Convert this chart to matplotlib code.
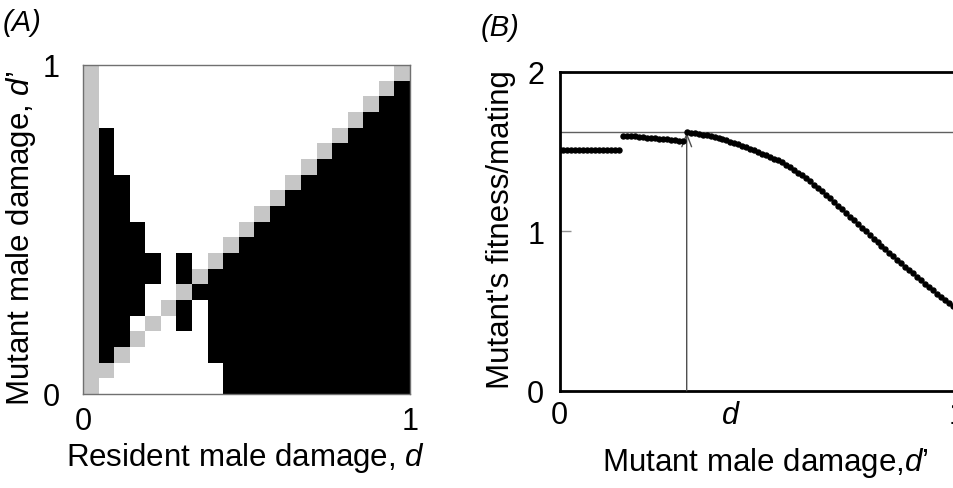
import numpy as np
import matplotlib
matplotlib.use("Agg")
import matplotlib.pyplot as plt
from matplotlib.colors import ListedColormap

plt.rcParams['font.family'] = ['Liberation Sans', 'DejaVu Sans']
plt.rcParams['mathtext.fontset'] = 'custom'
plt.rcParams['mathtext.rm'] = 'Liberation Sans'
plt.rcParams['mathtext.it'] = 'Liberation Sans:italic'

# ---------------- Panel A data: pairwise invasibility grid ----------------
# rows from top (d' = 1) to bottom (d' = 0); columns d = 0 .. 1 in steps of 0.05
# '.' = mutant cannot invade (white), '#' = mutant invades (black), 'g' = neutral (grey)
pip_rows = [
    "g...................g",
    "g..................g#",
    "g.................g##",
    "g................g###",
    "g#..............g####",
    "g#.............g#####",
    "g#............g######",
    "g##..........g#######",
    "g##.........g########",
    "g##........g#########",
    "g###......g##########",
    "g###.....g###########",
    "g####.#.g############",
    "g####.#g#############",
    "g###..g##############",
    "g###.g#.#############",
    "g##.g.#.#############",
    "g##g....#############",
    "g#g.....#############",
    "gg.......############",
    "g........############",
]
pip_codes = {'.': 0, '#': 1, 'g': 2}

# ---------------- Panel B data: mutant fitness vs mutant damage ----------------
seg1_x = [0.00, 0.01, 0.02, 0.03, 0.04, 0.05, 0.06, 0.07, 0.08, 0.09, 0.10,
          0.11, 0.12, 0.13, 0.14, 0.15]
seg1_y = [1.512, 1.512, 1.512, 1.512, 1.512, 1.512, 1.512, 1.512, 1.512, 1.512,
          1.512, 1.511, 1.511, 1.511, 1.511, 1.511]
seg2_x = [0.16, 0.17, 0.18, 0.19, 0.20, 0.21, 0.22, 0.23, 0.24, 0.25, 0.26,
          0.27, 0.28, 0.29, 0.30, 0.31]
seg2_y = [1.600, 1.598, 1.596, 1.594, 1.592, 1.589, 1.587, 1.585, 1.582, 1.580,
          1.577, 1.575, 1.572, 1.569, 1.566, 1.563]
seg3_x = [0.32, 0.33, 0.34, 0.35, 0.36, 0.37, 0.38, 0.39, 0.40, 0.41, 0.42,
          0.43, 0.44, 0.45, 0.46, 0.47, 0.48, 0.49, 0.50, 0.51, 0.52, 0.53,
          0.54, 0.55, 0.56, 0.57, 0.58, 0.59, 0.60, 0.61, 0.62, 0.63, 0.64,
          0.65, 0.66, 0.67, 0.68, 0.69, 0.70, 0.71, 0.72, 0.73, 0.74, 0.75,
          0.76, 0.77, 0.78, 0.79, 0.80, 0.81, 0.82, 0.83, 0.84, 0.85, 0.86,
          0.87, 0.88, 0.89, 0.90, 0.91, 0.92, 0.93, 0.94, 0.95, 0.96, 0.97,
          0.98, 0.99, 1.00]
seg3_y = [1.620, 1.617, 1.614, 1.610, 1.606, 1.601, 1.596, 1.590, 1.584, 1.577,
          1.570, 1.562, 1.554, 1.546, 1.537, 1.528, 1.518, 1.508, 1.497, 1.486,
          1.475, 1.463, 1.451, 1.446, 1.432, 1.417, 1.401, 1.385, 1.368, 1.350,
          1.331, 1.312, 1.292, 1.271, 1.250, 1.228, 1.206, 1.184, 1.161, 1.138,
          1.115, 1.092, 1.069, 1.046, 1.023, 1.000, 0.977, 0.954, 0.931, 0.909,
          0.887, 0.865, 0.843, 0.821, 0.799, 0.777, 0.756, 0.735, 0.714, 0.693,
          0.672, 0.651, 0.630, 0.609, 0.589, 0.569, 0.549, 0.529, 0.509]
d_star = 0.32
w_star = 1.62
d_label_x = 0.43

W, H = 954, 489
fig = plt.figure(figsize=(W / 100, H / 100), dpi=100)

def fx(px):
    return px / W

def fy(py):
    return 1 - py / H

FS = 22.5   # axis labels
TS = 22     # tick labels

# ---------------- Panel A ----------------
axA = fig.add_axes([fx(83), fy(395), fx(410) - fx(83), fy(66) - fy(395)])
grid = np.array([[pip_codes[c] for c in row] for row in pip_rows])
cmap = ListedColormap(['white', 'black', '#c6c6c6'])
axA.imshow(grid, cmap=cmap, vmin=0, vmax=2, extent=[0, 1, 0, 1],
           origin='upper', interpolation='nearest', aspect='auto')
axA.set_xlim(0, 1)
axA.set_ylim(0, 1)
for s in axA.spines.values():
    s.set_color('#707070')
    s.set_linewidth(1.0)
axA.set_xticks([0, 1])
axA.set_xticklabels(['0', '1'], fontsize=TS)
axA.set_yticks([0, 1])
axA.set_yticklabels(['0', '1'], fontsize=TS)
axA.tick_params(axis='x', length=0, pad=9)
axA.tick_params(axis='y', length=0, pad=17)

fig.text(fx(245), fy(458), 'Resident male damage, $d$', fontsize=FS,
         ha='center', va='center')
fig.text(fx(21), fy(238), 'Mutant male damage, $d$’', fontsize=FS,
         ha='center', va='center', rotation=90)
fig.text(fx(22), fy(23), '(A)', fontsize=21, style='italic',
         ha='center', va='center')

# ---------------- Panel B ----------------
axB = fig.add_axes([fx(559.5), fy(391.7), fx(957) - fx(559.5), fy(72.7) - fy(391.7)])
axB.set_xlim(0, 1)
axB.set_ylim(0, 2)
axB.axhline(w_star, color='#606060', lw=1.0, zorder=2)
axB.annotate('', xy=(d_star, w_star), xytext=(d_star, 0),
             arrowprops=dict(arrowstyle='->,head_length=0.9,head_width=0.35',
                             color='#505050', lw=1.0, shrinkA=0, shrinkB=0),
             zorder=3)
for xs, ys in [(seg1_x, seg1_y), (seg2_x, seg2_y), (seg3_x, seg3_y)]:
    axB.plot(xs, ys, linestyle='none', marker='o', markersize=3.6,
             color='black', zorder=4)
for s in axB.spines.values():
    s.set_color('black')
    s.set_linewidth(2.0)
axB.set_xticks([0, d_label_x, 1])
axB.set_xticklabels(['0', '$d$', '1'], fontsize=TS)
axB.tick_params(axis='x', length=0, pad=7)
axB.set_yticks([0, 1, 2])
axB.set_yticklabels(['0', '1', '2'], fontsize=TS)
axB.tick_params(axis='y', direction='in', length=8, width=1, color='#909090', pad=11)

fig.text(fx(765), fy(463), 'Mutant male damage,$d$’', fontsize=FS,
         ha='center', va='center')
fig.text(fx(501), fy(230), "Mutant's fitness/mating", fontsize=FS,
         ha='center', va='center', rotation=90)
fig.text(fx(500), fy(28), '(B)', fontsize=21, style='italic',
         ha='center', va='center')

fig.savefig('out.png', dpi=100)
